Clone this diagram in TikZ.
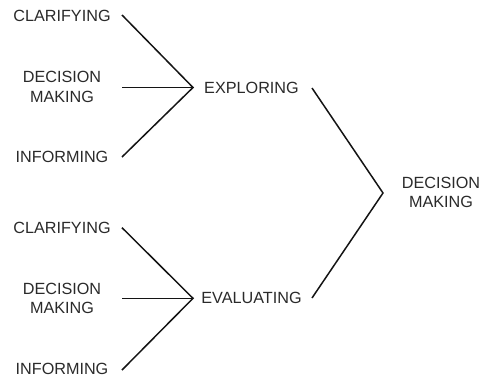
\documentclass[tikz,border=0pt]{standalone}
\usepackage{fontspec}
\setmainfont{Liberation Sans}
\definecolor{ink}{HTML}{2A2A2A}
\definecolor{wire}{HTML}{141414}
\begin{document}
\begin{tikzpicture}[x=1pt,y=-1pt,
  lbl/.style={inner sep=0pt,align=center,text=ink,font=\fontsize{16.2}{19.5}\selectfont},
  link/.style={draw=wire,line width=1.5pt}]
\useasboundingbox (0,0) rectangle (479,378);
% group 1
\node[lbl] (c1) at (62,16) {CLARIFYING};
\node[lbl] (d1) at (62,87) {DECISION\\MAKING};
\node[lbl] (i1) at (62,157) {INFORMING};
\node[lbl] (ex) at (251.5,87.5) {EXPLORING};
% group 2
\node[lbl] (c2) at (62,227.5) {CLARIFYING};
\node[lbl] (d2) at (62,298.5) {DECISION\\MAKING};
\node[lbl] (i2) at (62,368.5) {INFORMING};
\node[lbl] (ev) at (251.5,297.5) {EVALUATING};
% final
\node[lbl] (dm) at (441,192.5) {DECISION\\MAKING};
% connector ends
\coordinate (c1e) at (122,15);
\coordinate (d1e) at (122,87.5);
\coordinate (i1e) at (122,157);
\coordinate (j1) at (193,87.5);
\coordinate (c2e) at (122,227.7);
\coordinate (d2e) at (122,298.3);
\coordinate (i2e) at (122,370);
\coordinate (j2) at (193,298.3);
\coordinate (exe) at (312,88);
\coordinate (eve) at (312,298);
\coordinate (j3) at (383,193);
\draw[link] (c1e) -- (j1) -- (i1e);
\draw[link] (d1e) -- (j1);
\draw[link] (c2e) -- (j2) -- (i2e);
\draw[link] (d2e) -- (j2);
\draw[link] (exe) -- (j3) -- (eve);
\end{tikzpicture}
\end{document}
